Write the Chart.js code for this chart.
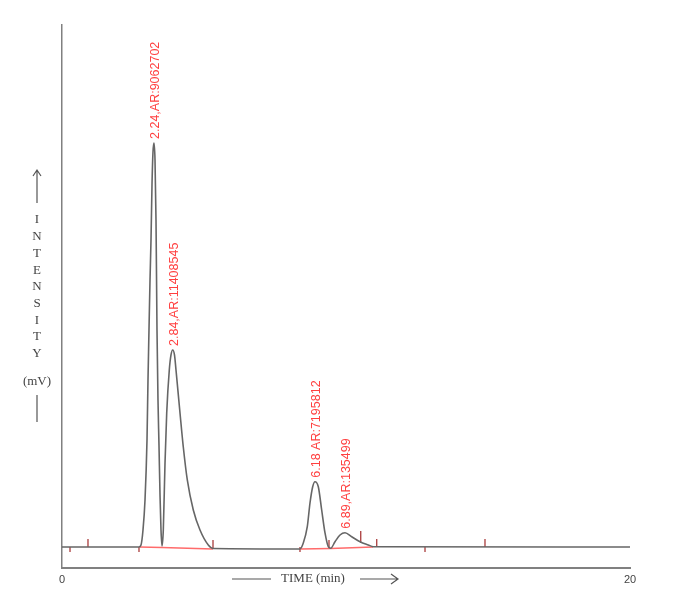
<!DOCTYPE html>
<html>
<head>
<meta charset="utf-8">
<script src="https://cdn.jsdelivr.net/npm/chart.js@4.4.0/dist/chart.umd.min.js"></script>
<style>
  body { margin: 0; background: #fff; }
  #chrom { display: block; }
</style>
</head>
<body>
<canvas id="chrom" width="678" height="612"></canvas>
<script>
// Detector trace (time on the drawn 0-20 axis, signal 0-100)
const traceTime = [0, 2.711, 2.782, 2.852, 2.923, 2.993, 3.028, 3.063, 3.099, 3.134, 3.169, 3.204, 3.239,
  3.275, 3.310, 3.345, 3.380, 3.415, 3.451, 3.486, 3.521,
  3.567, 3.627, 3.687, 3.778, 3.838, 3.898, 3.961, 4.014, 4.155, 4.271, 4.412, 4.623, 4.859, 5.151, 5.327,
  8.380, 8.496, 8.637, 8.732, 8.827, 8.908, 9.025, 9.144, 9.261, 9.377, 9.461,
  9.613, 9.789, 9.965, 10.201, 10.493, 10.785, 10.961, 20];
const traceSignal = [3.87, 3.87, 4.24, 7.00, 12.52, 23.57, 34.62, 43.83, 53.04, 60.41, 70.53, 76.61, 78.27,
  75.14, 64.09, 43.83, 30.94, 22.65, 13.44, 7.00, 4.05,
  7.00, 19.34, 28.55, 36.46, 39.23, 40.15, 39.23, 36.46, 28.55, 22.28, 16.21, 10.68, 7.00, 4.24, 3.59,
  3.50, 4.60, 7.61, 11.97, 14.97, 15.89, 14.97, 10.68, 6.45, 3.92, 3.63,
  4.84, 6.08, 6.50, 5.76, 4.84, 4.24, 3.92, 3.87];

// Integration baselines (red), null = gap
const baseTime = [2.711, 3.521, 5.317, 7.0, 8.380, 9.461, 10.951];
const baseSignal = [3.87, 3.78, 3.50, null, 3.50, 3.59, 3.87];

// Event marks on the baseline
const markTime = [0.282, 0.915, 2.711, 5.317, 8.380, 9.401, 10.518, 11.081, 12.782, 14.894];
const markTop = [3.87, 5.34, 3.87, 5.16, 3.87, 5.16, 6.81, 5.34, 3.87, 5.34];
const markBottom = [2.95, 3.87, 2.95, 3.68, 2.95, 3.68, 4.60, 3.87, 2.95, 3.87];

// Peak apexes and their labels
const peakTime = [3.239, 3.898, 8.908, 9.965];
const peakSignal = [78.27, 40.15, 15.89, 6.50];
const peakLabels = ['2.24,AR:9062702', '2.84,AR:11408545', '6.18 AR:7195812', '6.89,AR:135499'];

// Axis tick labels
const xTickValues = [0, 20];
const xTickLabels = ['0', '20'];

const markData = [];
markTime.forEach((t, i) => {
  markData.push({ x: t, y: markBottom[i] }, { x: t, y: markTop[i] }, { x: t, y: null });
});

// Draws peak labels and the arrow-style axis titles
const decorPlugin = {
  id: 'decor',
  afterDatasetsDraw(chart) {
    const { ctx, chartArea, scales } = chart;
    ctx.save();

    // rotated peak labels
    ctx.fillStyle = '#ff4040';
    ctx.font = '12.5px "Liberation Sans", Arial, sans-serif';
    ctx.textAlign = 'left';
    ctx.textBaseline = 'middle';
    peakLabels.forEach((txt, i) => {
      const px = scales.x.getPixelForValue(peakTime[i]) + 2;
      const py = scales.y.getPixelForValue(peakSignal[i]) - 4;
      ctx.save();
      ctx.translate(px, py);
      ctx.rotate(-Math.PI / 2);
      ctx.fillText(txt, 0, 0);
      ctx.restore();
    });

    ctx.strokeStyle = '#555';
    ctx.fillStyle = '#444';
    ctx.lineWidth = 1.2;

    // x title with lines and arrow
    const ty = chartArea.bottom + 11;
    const cx = chartArea.left + 251;
    ctx.font = '13px "Liberation Serif", "Times New Roman", serif';
    ctx.textAlign = 'center';
    ctx.fillText('TIME (min)', cx, ty);
    ctx.beginPath();
    ctx.moveTo(cx - 81, ty); ctx.lineTo(cx - 42, ty);
    ctx.moveTo(cx + 47, ty); ctx.lineTo(cx + 85, ty);
    ctx.moveTo(cx + 78, ty - 5); ctx.lineTo(cx + 85, ty); ctx.lineTo(cx + 78, ty + 5);
    ctx.stroke();

    // y title, letters stacked vertically
    const lx = chartArea.left - 25;
    ctx.beginPath();
    ctx.moveTo(lx, 203); ctx.lineTo(lx, 170);
    ctx.moveTo(lx - 4, 176); ctx.lineTo(lx, 170); ctx.lineTo(lx + 4, 176);
    ctx.moveTo(lx, 395); ctx.lineTo(lx, 422);
    ctx.stroke();
    'INTENSITY'.split('').forEach((ch, i) => {
      ctx.fillText(ch, lx, 220 + i * 16.7);
    });
    ctx.fillText('(mV)', lx, 382);

    ctx.restore();
  }
};

new Chart(document.getElementById('chrom'), {
  type: 'line',
  data: {
    datasets: [
      {
        data: traceTime.map((t, i) => ({ x: t, y: traceSignal[i] })),
        borderColor: '#666',
        borderWidth: 1.6,
        pointRadius: 0,
        cubicInterpolationMode: 'monotone'
      },
      {
        data: baseTime.map((t, i) => ({ x: t, y: baseSignal[i] })),
        borderColor: '#ff6b6b',
        borderWidth: 1.4,
        pointRadius: 0
      },
      {
        data: markData,
        borderColor: '#b04a4a',
        borderWidth: 1.4,
        pointRadius: 0
      }
    ]
  },
  options: {
    responsive: false,
    animation: false,
    layout: { padding: { top: 25, right: 48, left: 0, bottom: 0 } },
    plugins: { legend: { display: false }, tooltip: { enabled: false } },
    scales: {
      x: {
        type: 'linear',
        min: 0,
        max: 20,
        grid: { display: false, drawTicks: false },
        border: { display: true, color: '#808080', width: 2 },
        afterBuildTicks: scale => { scale.ticks = xTickValues.map(v => ({ value: v })); },
        afterFit: scale => { scale.height = 44; },
        ticks: {
          padding: 5,
          color: '#444',
          font: { family: '"Liberation Sans", Arial, sans-serif', size: 11 },
          maxRotation: 0,
          callback: (value, index) => xTickLabels[index]
        }
      },
      y: {
        min: 0,
        max: 100,
        grid: { display: false, drawTicks: false },
        border: { display: true, color: '#808080', width: 1.5 },
        ticks: { display: false },
        afterFit: scale => { scale.width = 62; }
      }
    }
  },
  plugins: [decorPlugin]
});
</script>
</body>
</html>
